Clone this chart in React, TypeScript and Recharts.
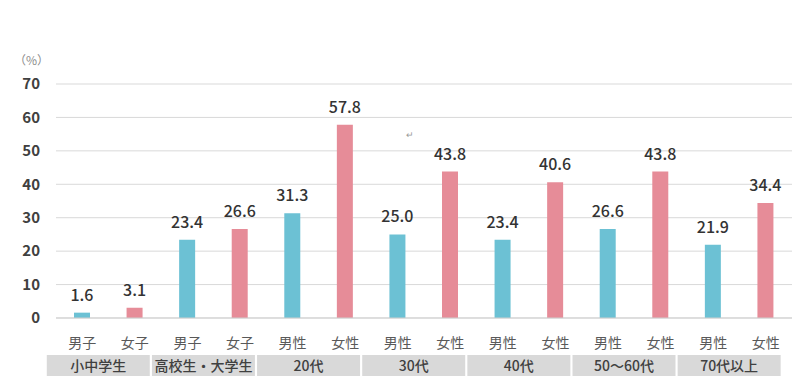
import React from "react";
import { BarChart, Bar, XAxis, YAxis, CartesianGrid, Cell, LabelList } from "recharts";

const subLabels = ["男子", "女子", "男子", "女子", "男性", "女性", "男性", "女性", "男性", "女性", "男性", "女性", "男性", "女性"];
const groupLabels = ["小中学生", "高校生・大学生", "20代", "30代", "40代", "50〜60代", "70代以上"];
const values = [1.6, 3.1, 23.4, 26.6, 31.3, 57.8, 25.0, 43.8, 23.4, 40.6, 26.6, 43.8, 21.9, 34.4];
const yTicks = [0, 10, 20, 30, 40, 50, 60, 70];

const MALE = "#6cc1d4";
const FEMALE = "#e68c98";
const FONT = "'Noto Sans CJK JP', 'Noto Sans', sans-serif";

const data = values.map((v, i) => ({
  key: `${groupLabels[Math.floor(i / 2)]}-${subLabels[i]}`,
  sub: subLabels[i],
  group: groupLabels[Math.floor(i / 2)],
  value: v,
}));

const TwoRowTick = ({ x, y, index }: any) => {
  const item = data[index];
  return (
    <g>
      <text x={x} y={y + 22} textAnchor="middle" fontSize={14} fill="#595959" fontFamily={FONT}>
        {item?.sub}
      </text>
      {index % 2 === 0 && (
        <g>
          <rect x={x - 35.5} y={y + 29} width={103} height={21} fill="#d9d9d9" />
          <text x={x + 16} y={y + 45} textAnchor="middle" fontSize={14} fill="#404040" fontWeight={500} fontFamily={FONT}>
            {item?.group}
          </text>
        </g>
      )}
    </g>
  );
};

export default function App() {
  return (
    <div style={{ position: "absolute", left: 0, top: 0, width: 804, height: 384, background: "#fff", fontFamily: FONT }}>
      <div style={{ position: "absolute", left: 14, top: 51, fontSize: 12, color: "#8c8c8c" }}>（%）</div>
      <div style={{ position: "absolute", left: 406, top: 128, fontSize: 9, color: "#999" }}>↵</div>
      <BarChart width={804} height={384} data={data} margin={{ top: 84, right: 12, bottom: 0, left: 0 }}>
        <CartesianGrid vertical={false} stroke="#d9d9d9" />
        <XAxis
          dataKey="key"
          interval={0}
          height={66}
          tickLine={false}
          axisLine={{ stroke: "#cfcfcf" }}
          tick={<TwoRowTick />}
        />
        <YAxis
          domain={[0, 70]}
          ticks={yTicks}
          width={56}
          axisLine={false}
          tickLine={false}
          tickSize={6}
          tickMargin={10}
          tick={{ fontSize: 15, fill: "#404040", fontWeight: 600, fontFamily: FONT }}
        />
        <Bar dataKey="value" barSize={16} isAnimationActive={false}>
          {data.map((d, i) => (
            <Cell key={d.key} fill={i % 2 === 0 ? MALE : FEMALE} />
          ))}
          <LabelList
            dataKey="value"
            position="top"
            offset={12}
            formatter={(v: any) => Number(v).toFixed(1)}
            style={{ fontSize: 16, fill: "#333", fontWeight: 500, fontFamily: FONT }}
          />
        </Bar>
      </BarChart>
    </div>
  );
}
